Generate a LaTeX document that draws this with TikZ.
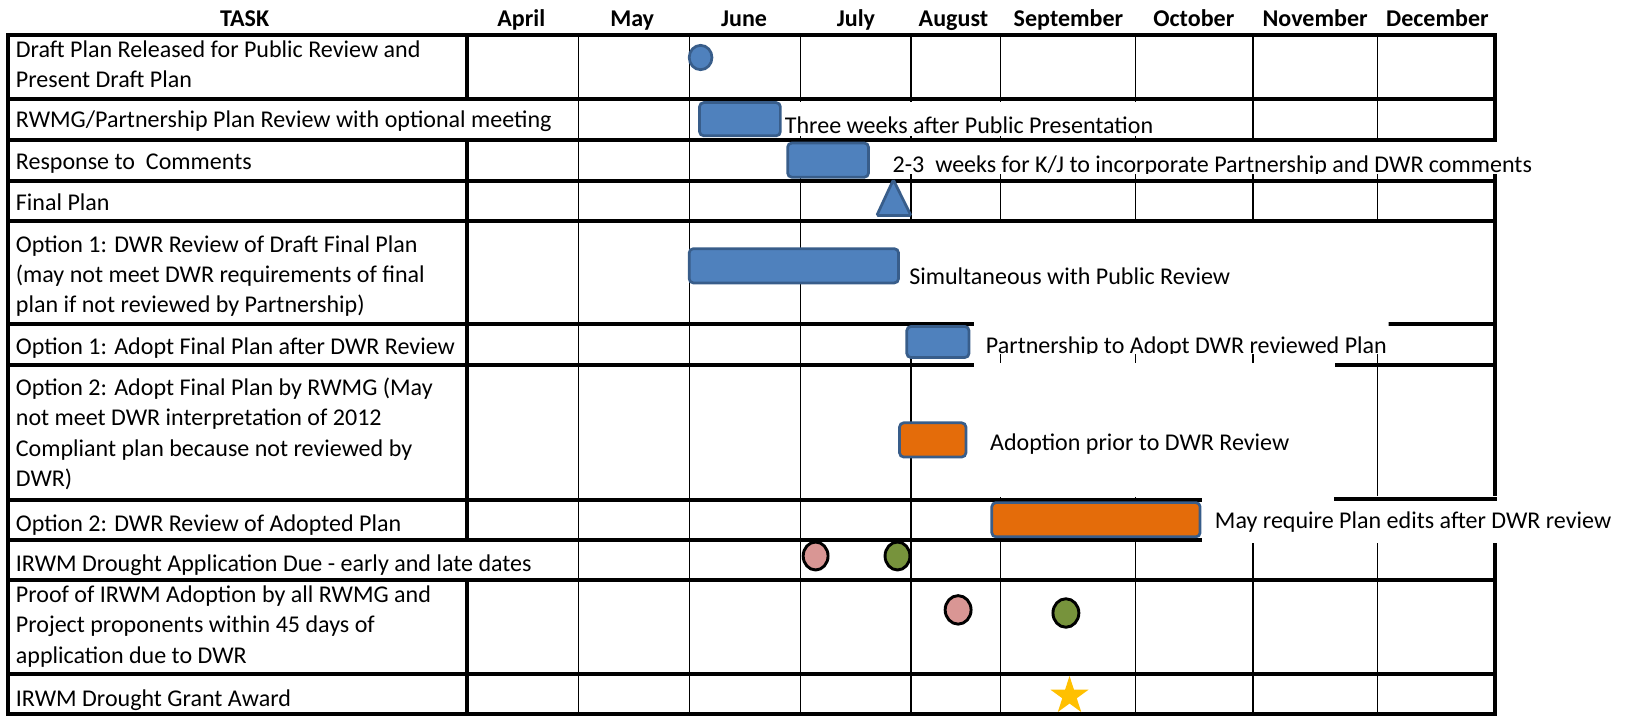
\documentclass[tikz,border=0pt]{standalone}
\usepackage{fontspec}
\setmainfont{Carlito}
\usepackage{xcolor}
\usepackage{tikz}
\usetikzlibrary{shapes,positioning}

\definecolor{barblue}{HTML}{4F81BD}
\definecolor{barline}{HTML}{385D8A}
\definecolor{barorange}{HTML}{E46C0A}
\definecolor{dotpink}{HTML}{D99694}
\definecolor{dotgreen}{HTML}{77933C}
\definecolor{stargold}{HTML}{FFC000}

\tikzset{
	cell/.style={font=\fontsize{13.2}{16.7}\selectfont, anchor=base west, align=left, inner sep=0pt},
	head/.style={font=\bfseries\fontsize{13.2}{15}\selectfont, anchor=base, inner sep=0pt},
	note/.style={font=\fontsize{13.2}{15}\selectfont, anchor=base west, inner sep=0pt},
	thickrule/.style={line width=2.2pt, line cap=rect},
	monthrule/.style={line width=0.6pt},
	bluebar/.style={fill=barblue, draw=barline, line width=1.5pt, rounded corners=0.8mm},
	orangebar/.style={fill=barorange, draw=barline, line width=1.5pt, rounded corners=0.8mm},
	dot/.style={draw=black, line width=1.6pt}
}

\begin{document}
\begin{tikzpicture}[x=0.2mm, y=-0.2mm]
		
		\useasboundingbox (0,0) rectangle (1568,690);
		
		\node (task_head) [head] at (236,26) {TASK};
		
		\node (apr_head) [head] at (503,26) {April};
		
		\node (may_head) [head] at (610,26) {May};
		
		\node (jun_head) [head] at (718,26) {June};
		
		\node (jul_head) [head] at (826,26) {July};
		
		\node (aug_head) [head] at (920,26) {August};
		
		\node (sep_head) [head] at (1031,26) {September};
		
		\node (oct_head) [head] at (1152,26) {October};
		
		\node (nov_head) [head] at (1269,26) {November};
		
		\node (dec_head) [head] at (1387,26) {December};
		
		
		% grid of the table
		\draw [monthrule] (558,34) -- (558,689) (665,34) -- (665,689) (772,34) -- (772,689) (879,34) -- (879,689)
			(965,34) -- (965,689) (1096,34) -- (1096,689) (1209,34) -- (1209,689) (1329,34) -- (1329,689);
		
		\draw [thickrule] (8,34) -- (1443,34) (8,96) -- (1443,96) (8,135) -- (1443,135) (8,175) -- (1443,175)
			(8,213) -- (1443,213) (8,313) -- (1443,313) (8,352) -- (1443,352) (8,482) -- (1443,482)
			(8,521) -- (1443,521) (8,560) -- (1443,560) (8,650) -- (1443,650) (8,689) -- (1443,689);
		
		\draw [thickrule] (8,34) -- (8,689) (1443,34) -- (1443,689);
		
		\draw [thickrule] (451,34) -- (451,96) (451,135) -- (451,521) (451,560) -- (451,689);
		
		
		% multi-line cells sit on the baseline of their last line
		\node (task_1) [cell] at (15,84.5) {Draft Plan Released for Public Review and\\Present Draft Plan};
		
		\node (task_2) [cell] at (15,123.5) {RWMG/Partnership Plan Review with optional meeting};
		
		\node (task_3) [cell] at (15,163.5) {Response to \ Comments};
		
		\node (task_4) [cell] at (15,203) {Final Plan};
		
		\node (task_5) [cell] at (15,302) {Option 1: DWR Review of Draft Final Plan\\(may not meet DWR requirements of final\\plan if not reviewed by Partnership)};
		
		\node (task_6) [cell] at (15,342.5) {Option 1: Adopt Final Plan after DWR Review};
		
		\node (task_7) [cell] at (15,469.5) {Option 2: Adopt Final Plan by RWMG (May\\not meet DWR interpretation of 2012\\Compliant plan because not reviewed by\\DWR)};
		
		\node (task_8) [cell] at (15,512.5) {Option 2: DWR Review of Adopted Plan};
		
		\node (task_9) [cell] at (15,551.5) {IRWM Drought Application Due - early and late dates};
		
		\node (task_10) [cell] at (15,640) {Proof of IRWM Adoption by all RWMG and\\Project proponents within 45 days of\\application due to DWR};
		
		\node (task_11) [cell] at (15,681.5) {IRWM Drought Grant Award};
		
		
		% white boxes behind the notes
		\fill [white] (869,215) rectangle (1440.5,311);
		
		\fill [white] (940,350) rectangle (1288,480);
		
		\fill [white] (1160,479) rectangle (1560,523.5);
		
		\draw [thickrule] (1289,481.5) -- (1443,481.5);
		
		\begin{scope}
		
		\clip (755,98.5) rectangle (1118,131);
		
		\fill [white] (755,98.5) rectangle (1118,131);
		
		\node (note_2) [note] at (757,129) {Three weeks after Public Presentation};
		
		\end{scope}
		
		\begin{scope}
		
		\clip (857,137.5) rectangle (1492,167.5);
		
		\fill [white] (857,137.5) rectangle (1492,167.5);
		
		\node (note_3) [note] at (861,166) {2-3 \ weeks for K/J to incorporate Partnership and DWR comments};
		
		\end{scope}
		
		\begin{scope}
		
		\clip (940,310) rectangle (1340,341.5);
		
		\fill [white] (940,310) rectangle (1340,341.5);
		
		\node (note_6) [note] at (951,341) {Partnership to Adopt DWR reviewed Plan};
		
		\end{scope}
		
		\node (note_5) [note] at (877,275) {Simultaneous with Public Review};
		
		\node (note_7) [note] at (955,435) {Adoption prior to DWR Review};
		
		\node (note_8) [note] at (1172,509.5) {May require Plan edits after DWR review};
		
		
		% bars and milestones
		\draw [bluebar] (676,55.5) ellipse [x radius=2.2mm, y radius=2.35mm];
		
		\draw [bluebar] (675,99) rectangle (753,131);
		
		\draw [bluebar] (760,138) rectangle (838,171);
		
		\draw [bluebar, rounded corners=0.3mm] (862,173.5) -- (879,208) -- (846,208) -- cycle;
		
		\draw [bluebar] (665,240) rectangle (867,273);
		
		\draw [bluebar] (875,315) rectangle (935,345);
		
		\draw [orangebar] (868,408) rectangle (932,441);
		
		\draw [orangebar] (957,485) rectangle (1158,518);
		
		\draw [dot, fill=dotpink] (787,536.5) ellipse [x radius=2.4mm, y radius=2.7mm];
		
		\draw [dot, fill=dotgreen] (866,536.5) ellipse [x radius=2.4mm, y radius=2.7mm];
		
		\draw [dot, fill=dotpink] (924.5,588.5) ellipse [x radius=2.5mm, y radius=2.75mm];
		
		\draw [dot, fill=dotgreen] (1028.5,591.5) ellipse [x radius=2.5mm, y radius=2.75mm];
		
		\node (award) [star, star points=5, star point ratio=2.618, fill=stargold, inner sep=0pt, minimum size=7.7mm] at (1032,671.5) {};
		
\end{tikzpicture}
\end{document}
